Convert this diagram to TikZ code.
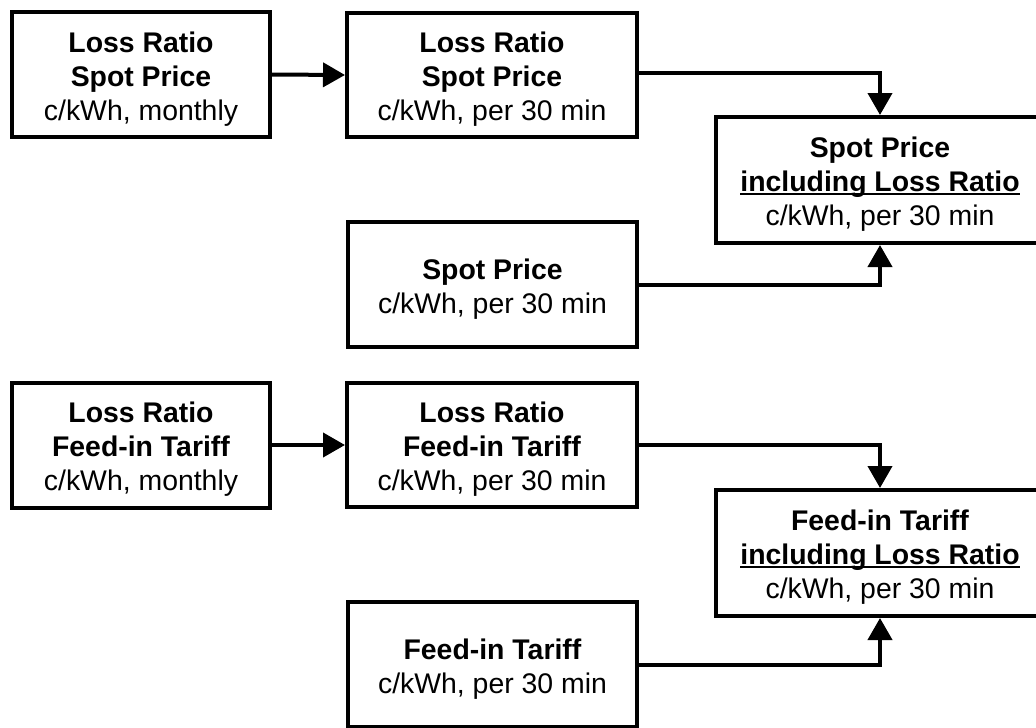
\documentclass[tikz,border=0pt]{standalone}
\usepackage{fontspec}
\setmainfont{Liberation Sans}
\usetikzlibrary{arrows.meta}

% underline drawn close to the baseline, crossing descenders
\newcommand{\lossul}[1]{\leavevmode\setbox0\hbox{#1}\rlap{\rule[-3.5pt]{\wd0}{2pt}}\box0}
% taller first line, which lowers the text block a little in its box
\newcommand{\topstrut}{\rule{0pt}{29pt}}

\tikzset{
  box/.style={draw=black, line width=4pt, rectangle, align=center,
    inner sep=0pt, font=\fontsize{28.4}{34}\selectfont},
  flow/.style={line width=4pt, -{Triangle[length=22pt,width=24pt]}},
}

\begin{document}
\begin{tikzpicture}[x=1pt,y=-1pt]
\clip (0,0) rectangle (1036,728);
\fill[white] (0,0) rectangle (1036,728);

% spot price chain
\node[box, minimum width=258pt, minimum height=125pt] (lrsm) at (141,74.5)
  {\topstrut\textbf{Loss Ratio}\\ \textbf{Spot Price}\\ c/kWh, monthly};
\node[box, minimum width=290pt, minimum height=124pt] (lrsh) at (492,75)
  {\topstrut\textbf{Loss Ratio}\\ \textbf{Spot Price}\\ c/kWh, per 30 min};
\node[box, minimum width=328pt, minimum height=126pt] (spinc) at (880,180)
  {\topstrut\textbf{Spot Price}\\ \lossul{\textbf{including Loss Ratio}}\\ c/kWh, per 30 min};
\node[box, minimum width=289pt, minimum height=125pt] (sp) at (492.5,284.5)
  {\topstrut\textbf{Spot Price}\\ c/kWh, per 30 min};

% feed-in tariff chain
\node[box, minimum width=258pt, minimum height=125pt] (lrfm) at (141,445)
  {\topstrut\textbf{Loss Ratio}\\ \textbf{Feed-in Tariff}\\ c/kWh, monthly};
\node[box, minimum width=290pt, minimum height=124pt] (lrfh) at (492,445)
  {\topstrut\textbf{Loss Ratio}\\ \textbf{Feed-in Tariff}\\ c/kWh, per 30 min};
\node[box, minimum width=328pt, minimum height=126pt] (fitinc) at (880,553)
  {\topstrut\textbf{Feed-in Tariff}\\ \lossul{\textbf{including Loss Ratio}}\\ c/kWh, per 30 min};
\node[box, minimum width=289pt, minimum height=125pt] (fit) at (492.5,664.5)
  {\topstrut\textbf{Feed-in Tariff}\\ c/kWh, per 30 min};

% connectors
\draw[flow] (lrsm.east) -- (lrsh.west);
\draw[flow] ([yshift=2pt]lrsh.east) -| (spinc.north);
\draw[flow] (sp.east) -| (spinc.south);

\draw[flow] (lrfm.east) -- (lrfh.west);
\draw[flow] (lrfh.east) -| (fitinc.north);
\draw[flow] (fit.east) -| (fitinc.south);
\end{tikzpicture}
\end{document}
